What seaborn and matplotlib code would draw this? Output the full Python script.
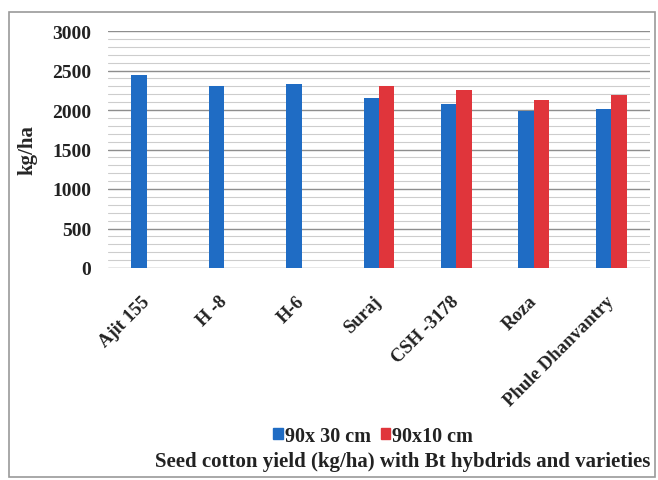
import pandas as pd
import matplotlib.pyplot as plt
import seaborn as sns
import numpy as np
from matplotlib.ticker import MultipleLocator
from matplotlib.patches import Rectangle

# data
varieties = ["Ajit 155", "H -8", "H-6", "Suraj", "CSH -3178", "Roza", "Phule Dhanvantry"]
spacing_30 = [2445, 2300, 2330, 2150, 2080, 1990, 2010]
spacing_10 = [np.nan, np.nan, np.nan, 2310, 2250, 2130, 2190]
series = ["90x 30 cm", "90x10 cm"]

df = pd.DataFrame({
    "Variety": varieties * 2,
    "Spacing": [series[0]] * len(varieties) + [series[1]] * len(varieties),
    "Yield": spacing_30 + spacing_10,
})

sns.set_style("white")
plt.rcParams["font.family"] = ["Liberation Serif", "DejaVu Serif"]
plt.rcParams["font.weight"] = "bold"
plt.rcParams["text.color"] = "#222222"
plt.rcParams["xtick.color"] = "#222222"
plt.rcParams["ytick.color"] = "#222222"

fig = plt.figure(figsize=(6.58, 4.81), dpi=100)
ax = fig.add_axes([108 / 658, 1 - 269 / 481, 542 / 658, 237 / 481])

sns.barplot(data=df, x="Variety", y="Yield", hue="Spacing", hue_order=series,
            order=varieties, palette={series[0]: "#1f6cc4", series[1]: "#e0353b"},
            width=0.4, saturation=1, errorbar=None, ax=ax, legend=True, linewidth=0)

ax.set_xlim(-0.5, len(varieties) - 0.5)
ax.set_ylim(0, 3000)
ax.set_yticks(range(0, 3001, 500))
ax.yaxis.set_minor_locator(MultipleLocator(100))
ax.grid(which="major", axis="y", color="#8e8e8e", lw=1.0)
ax.grid(which="minor", axis="y", color="#cdcdcd", lw=0.8)
ax.set_axisbelow(True)
for s in ax.spines.values():
    s.set_visible(False)
ax.tick_params(which="both", length=0)
ax.tick_params(axis="y", labelsize=14, pad=12)

ax.set_xticks(range(len(varieties)))
ax.set_xticklabels(varieties, rotation=45, ha="right", va="center",
                   rotation_mode="anchor", fontsize=13.5, fontweight="bold")
ax.tick_params(axis="x", pad=22)
for lab in ax.get_yticklabels():
    lab.set_fontweight("bold")

ax.set_xlabel("")
ax.set_ylabel("kg/ha", fontsize=15, fontweight="bold")
ax.yaxis.set_label_coords(-0.13, 0.5)

ax.get_legend().remove()
handles = [Rectangle((0, 0), 1, 1, color="#1f6cc4"), Rectangle((0, 0), 1, 1, color="#e0353b")]
fig.legend(handles, series, loc="center", bbox_to_anchor=(373 / 658, 1 - 437 / 481),
           ncol=2, frameon=False, handlelength=0.45, handleheight=0.45,
           handletextpad=0.1, columnspacing=0.5, prop={"size": 14.5, "weight": "bold"})

fig.text(403 / 658, 1 - 462 / 481, "Seed cotton yield (kg/ha) with Bt hybdrids and varieties",
         ha="center", va="center", fontsize=15, fontweight="bold")

fig.patches.append(Rectangle((9 / 658, 3 / 481), 646 / 658, 465 / 481, transform=fig.transFigure,
                             fill=False, edgecolor="#9a9a9a", lw=1.2))

fig.savefig("out.png", dpi=100)
